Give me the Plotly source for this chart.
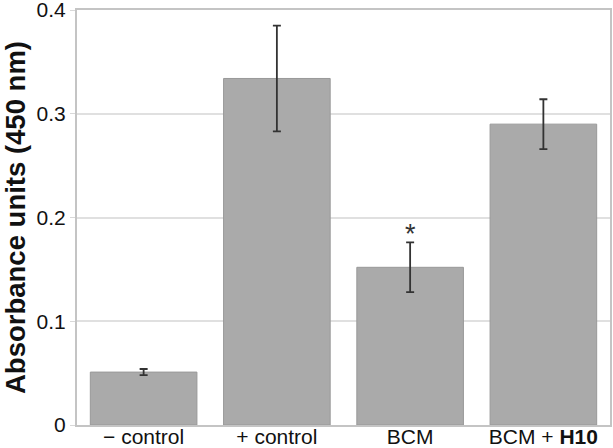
import plotly.graph_objects as go

categories = ["− control", "+ control", "BCM", "BCM + <b>H10</b>"]
values = [0.051, 0.334, 0.152, 0.290]
errors = [0.003, 0.051, 0.024, 0.024]
y_ticks = [0, 0.1, 0.2, 0.3, 0.4]
y_tick_labels = ["0", "0.1", "0.2", "0.3", "0.4"]
star_category = "BCM"
star_y = 0.187

fig = go.Figure()
fig.add_trace(go.Bar(
    x=categories, y=values,
    marker=dict(color="#aaaaaa", line=dict(color="#999999", width=1)),
    error_y=dict(type="data", array=errors, visible=True, color="#333333", thickness=1.8, width=4),
))
fig.add_annotation(x=star_category, y=star_y, text="*", showarrow=False, yshift=-3,
                   font=dict(size=27, color="#333333", family="Liberation Sans, Arial"), yanchor="middle")

fig.update_layout(
    width=613, height=448,
    margin=dict(l=77, r=3, t=10, b=23, autoexpand=False),
    plot_bgcolor="white", paper_bgcolor="white",
    bargap=0.2, showlegend=False,
    font=dict(family="Liberation Sans, Arial", color="#111111"),
)
fig.update_xaxes(
    automargin=False,
    showline=True, linecolor="#c4c4c4", linewidth=2, mirror=True,
    tickfont=dict(size=21, color="#111111"), ticks="", showgrid=False,
    ticklabelstandoff=-8, ticklabeloverflow="allow",
)
fig.update_yaxes(
    automargin=False,
    range=[0, 0.4], tickvals=y_ticks, ticktext=y_tick_labels,
    showline=True, linecolor="#c4c4c4", linewidth=2, mirror=True,
    showgrid=True, gridcolor="#e0e0e0", gridwidth=1.5,
    ticks="outside", ticklen=5, tickcolor="#d8d8d8",
    tickfont=dict(size=21, color="#111111"), ticklabeloverflow="allow",
    title=dict(text="<b>Absorbance units (450 nm)</b>", font=dict(size=27.5, color="#111111"), standoff=8),
    zeroline=False,
)
fig.write_html("out.html", config={"displayModeBar": False},
               post_script="document.body.style.margin='0';document.body.style.overflow='hidden';")
